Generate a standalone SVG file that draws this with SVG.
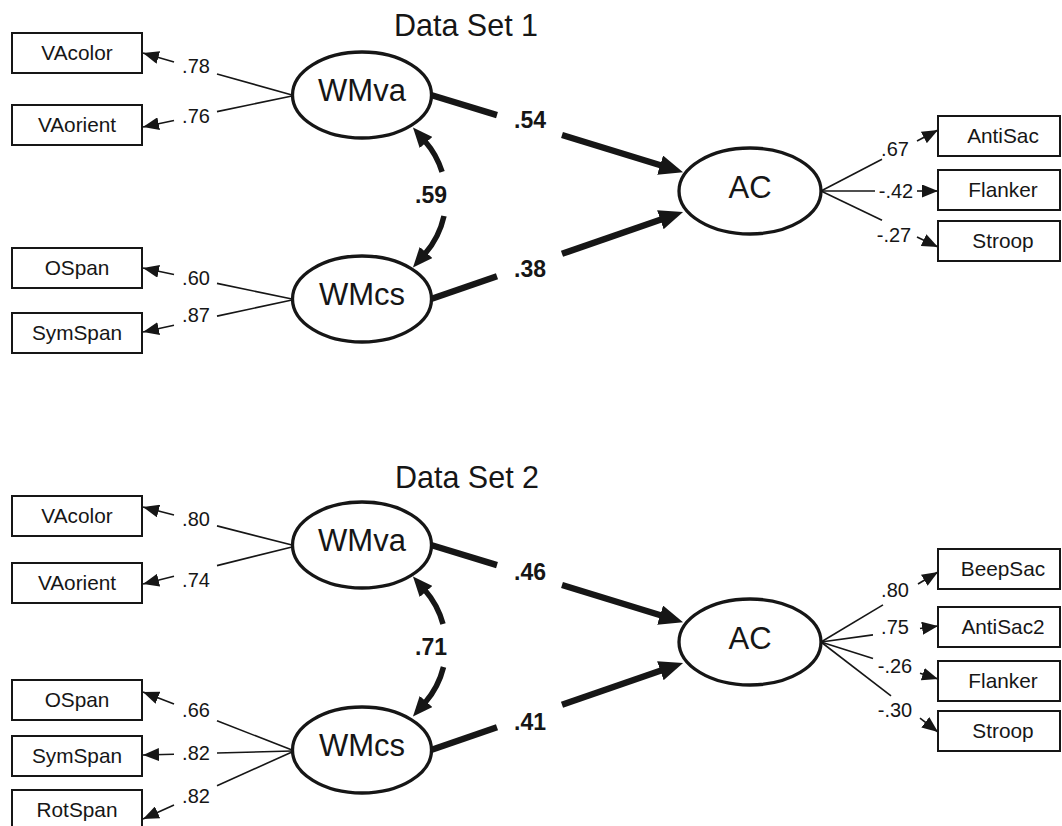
<svg xmlns="http://www.w3.org/2000/svg" width="1062" height="826" viewBox="0 0 1062 826">
<defs>
<style>
text{font-family:"Liberation Sans",Arial,Helvetica,sans-serif;fill:#161616;text-anchor:middle}
.title{font-size:30.5px}
.lat{font-size:31px}
.obs{font-size:20.8px}
.ld{font-size:20px}
.st{font-size:23px;font-weight:bold}
rect{fill:#fff;stroke:#161616;stroke-width:2}
ellipse{fill:#fff;stroke:#161616;stroke-width:3.3}
.thin{stroke:#161616;stroke-width:1.6;fill:none}
.thinA{stroke:#161616;stroke-width:1.6;fill:none;marker-end:url(#ahThin)}
.thick{stroke:#161616;stroke-width:6.5;fill:none}
.thickA{stroke:#161616;stroke-width:6.5;fill:none;marker-end:url(#ahThick)}
.arcA{stroke:#161616;stroke-width:5.5;fill:none;marker-end:url(#ahArc)}
</style>
<marker id="ahThin" viewBox="0 0 16 13" refX="16" refY="6.5" markerWidth="16" markerHeight="13" markerUnits="userSpaceOnUse" orient="auto"><path d="M0,0 L16,6.5 L0,13 z" fill="#161616"/></marker>
<marker id="ahThick" viewBox="0 0 24 20" refX="3" refY="10" markerWidth="24" markerHeight="20" markerUnits="userSpaceOnUse" orient="auto"><path d="M0,0 L24,10 L0,20 z" fill="#161616"/></marker>
<marker id="ahArc" viewBox="0 0 20 17" refX="2" refY="8.5" markerWidth="20" markerHeight="17" markerUnits="userSpaceOnUse" orient="auto"><path d="M0,0 L20,8.5 L0,17 z" fill="#161616"/></marker>
</defs>

<text class="title" x="466" y="36">Data Set 1</text>
<text class="title" x="467" y="488">Data Set 2</text>

<g id="connectors">
<!-- Data Set 1 loadings -->
<line class="thin" x1="292" y1="95" x2="217" y2="74"/><line class="thinA" x1="174" y1="62" x2="143" y2="53"/>
<line class="thin" x1="292" y1="96" x2="217" y2="111.6"/><line class="thinA" x1="174" y1="120.5" x2="143" y2="127"/>
<line class="thin" x1="292" y1="299" x2="217" y2="283.4"/><line class="thinA" x1="174" y1="274.5" x2="143" y2="268"/>
<line class="thin" x1="292" y1="300" x2="217" y2="316.1"/><line class="thinA" x1="174" y1="325.3" x2="143" y2="332"/>
<line class="thin" x1="821" y1="191" x2="882" y2="159.2"/><line class="thinA" x1="917" y1="141" x2="938" y2="130"/>
<line class="thin" x1="821" y1="191" x2="875" y2="191"/><line class="thinA" x1="917" y1="191" x2="938" y2="191"/>
<line class="thin" x1="821" y1="191" x2="882" y2="220.2"/><line class="thinA" x1="917" y1="237" x2="938" y2="247"/>
<!-- Data Set 1 structural -->
<line class="thick" x1="431" y1="95" x2="497" y2="115.2"/><line class="thickA" x1="562" y1="135" x2="663" y2="166"/>
<line class="thick" x1="431" y1="299" x2="497" y2="276.2"/><line class="thickA" x1="562" y1="253.8" x2="663.2" y2="218.8"/>
<path class="arcA" d="M442.1,171.9 A86,86 0 0,0 424.8,141"/>
<path class="arcA" d="M444,216 A86,86 0 0,1 424.8,254"/>

<!-- Data Set 2 loadings -->
<line class="thin" x1="292" y1="545" x2="217" y2="525.9"/><line class="thinA" x1="174" y1="515" x2="143" y2="507"/>
<line class="thin" x1="292" y1="547" x2="217" y2="565.6"/><line class="thinA" x1="174" y1="576.3" x2="143" y2="584"/>
<line class="thin" x1="292" y1="750" x2="217" y2="720.8"/><line class="thinA" x1="174" y1="704.1" x2="143" y2="692"/>
<line class="thin" x1="292" y1="751" x2="217" y2="753"/><line class="thinA" x1="174" y1="754.2" x2="143" y2="755"/>
<line class="thin" x1="292" y1="752" x2="217" y2="785.7"/><line class="thinA" x1="174" y1="805" x2="143" y2="819"/>
<line class="thin" x1="821" y1="642" x2="883" y2="604.9"/><line class="thinA" x1="918" y1="584" x2="938" y2="572"/>
<line class="thin" x1="821" y1="642" x2="873" y2="634.9"/><line class="thinA" x1="920" y1="628.5" x2="938" y2="626"/>
<line class="thin" x1="821" y1="642" x2="873" y2="658.4"/><line class="thinA" x1="920" y1="673.3" x2="938" y2="679"/>
<line class="thin" x1="821" y1="642" x2="891" y2="695.8"/><line class="thinA" x1="920" y1="718.2" x2="938" y2="732"/>
<!-- Data Set 2 structural -->
<line class="thick" x1="431" y1="545" x2="497" y2="565.2"/><line class="thickA" x1="562" y1="585" x2="663" y2="616"/>
<line class="thick" x1="431" y1="750" x2="497" y2="727.2"/><line class="thickA" x1="562" y1="704.8" x2="663.2" y2="669.8"/>
<path class="arcA" d="M443,624 A86,86 0 0,0 424.8,590"/>
<path class="arcA" d="M443.5,667 A86,86 0 0,1 424.8,703"/>

<!-- labels -->
<text class="ld" x="196" y="73">.78</text>
<text class="ld" x="196" y="123">.76</text>
<text class="ld" x="196" y="285">.60</text>
<text class="ld" x="196" y="322">.87</text>
<text class="ld" x="895" y="156">.67</text>
<text class="ld" x="896" y="198">-.42</text>
<text class="ld" x="894" y="242">-.27</text>
<text class="st" x="530" y="128">.54</text>
<text class="st" x="530" y="277">.38</text>
<text class="st" x="431" y="203">.59</text>

<text class="ld" x="196" y="526">.80</text>
<text class="ld" x="196" y="587">.74</text>
<text class="ld" x="196" y="717">.66</text>
<text class="ld" x="196" y="760">.82</text>
<text class="ld" x="196" y="803">.82</text>
<text class="ld" x="895" y="597">.80</text>
<text class="ld" x="895" y="634">.75</text>
<text class="ld" x="895" y="673">-.26</text>
<text class="ld" x="895" y="717">-.30</text>
<text class="st" x="530" y="580">.46</text>
<text class="st" x="530" y="730">.41</text>
<text class="st" x="431" y="655">.71</text>
</g>

<!-- Data Set 1 nodes -->
<g id="ds1-vacolor"><rect x="12" y="33" width="130" height="40"/><text class="obs" x="77" y="60">VAcolor</text></g>
<g id="ds1-vaorient"><rect x="12" y="105" width="130" height="40"/><text class="obs" x="77" y="132">VAorient</text></g>
<g id="ds1-ospan"><rect x="12" y="248" width="130" height="40"/><text class="obs" x="77" y="275">OSpan</text></g>
<g id="ds1-symspan"><rect x="12" y="313" width="130" height="40"/><text class="obs" x="77" y="340">SymSpan</text></g>
<g id="ds1-wmva"><ellipse cx="362" cy="95" rx="69.5" ry="43"/><text class="lat" x="362" y="101">WMva</text></g>
<g id="ds1-wmcs"><ellipse cx="362" cy="299" rx="69.5" ry="43"/><text class="lat" x="362" y="305">WMcs</text></g>
<g id="ds1-ac"><ellipse cx="750" cy="191" rx="71" ry="43"/><text class="lat" x="750" y="198">AC</text></g>
<g id="ds1-antisac"><rect x="938" y="116" width="122" height="40"/><text class="obs" x="1003" y="143">AntiSac</text></g>
<g id="ds1-flanker"><rect x="938" y="170" width="122" height="40"/><text class="obs" x="1003" y="197">Flanker</text></g>
<g id="ds1-stroop"><rect x="938" y="221" width="122" height="40"/><text class="obs" x="1003" y="248">Stroop</text></g>

<!-- Data Set 2 nodes -->
<g id="ds2-vacolor"><rect x="12" y="496" width="130" height="40"/><text class="obs" x="77" y="523">VAcolor</text></g>
<g id="ds2-vaorient"><rect x="12" y="563" width="130" height="40"/><text class="obs" x="77" y="590">VAorient</text></g>
<g id="ds2-ospan"><rect x="12" y="680" width="130" height="40"/><text class="obs" x="77" y="707">OSpan</text></g>
<g id="ds2-symspan"><rect x="12" y="736" width="130" height="40"/><text class="obs" x="77" y="763">SymSpan</text></g>
<g id="ds2-rotspan"><rect x="12" y="790" width="130" height="40"/><text class="obs" x="77" y="817">RotSpan</text></g>
<g id="ds2-wmva"><ellipse cx="362" cy="545" rx="69.5" ry="43"/><text class="lat" x="362" y="551">WMva</text></g>
<g id="ds2-wmcs"><ellipse cx="362" cy="750" rx="69.5" ry="43"/><text class="lat" x="362" y="756">WMcs</text></g>
<g id="ds2-ac"><ellipse cx="750" cy="642" rx="71" ry="43"/><text class="lat" x="750" y="649">AC</text></g>
<g id="ds2-beepsac"><rect x="938" y="549" width="122" height="40"/><text class="obs" x="1003" y="576">BeepSac</text></g>
<g id="ds2-antisac2"><rect x="938" y="607" width="122" height="40"/><text class="obs" x="1003" y="634">AntiSac2</text></g>
<g id="ds2-flanker"><rect x="938" y="661" width="122" height="40"/><text class="obs" x="1003" y="688">Flanker</text></g>
<g id="ds2-stroop"><rect x="938" y="711" width="122" height="40"/><text class="obs" x="1003" y="738">Stroop</text></g>
</svg>
